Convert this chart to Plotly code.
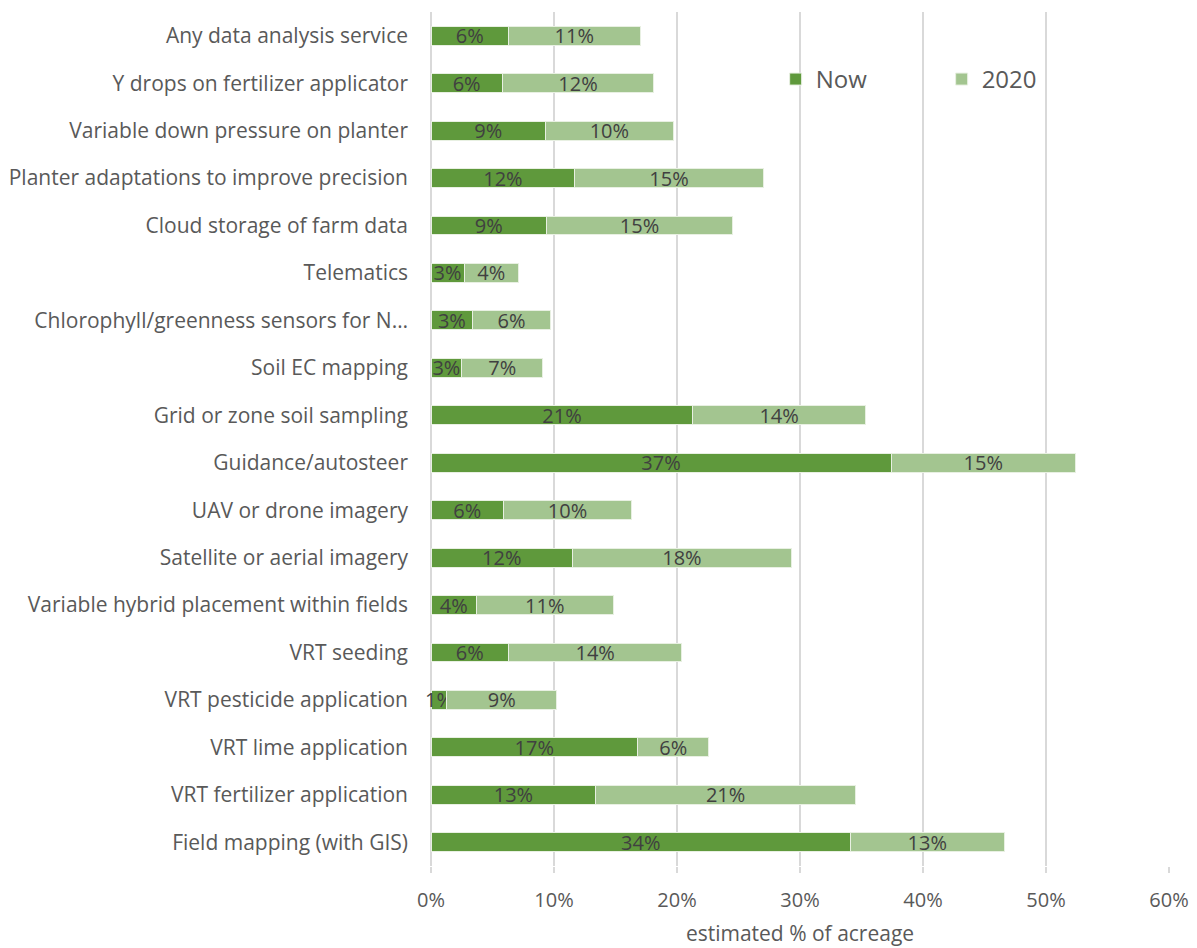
import plotly.graph_objects as go

# categories listed bottom to top, as plotly draws them
practices = [
    "Field mapping (with GIS)",
    "VRT fertilizer application",
    "VRT lime application",
    "VRT pesticide application",
    "VRT seeding",
    "Variable hybrid placement within fields",
    "Satellite or aerial imagery",
    "UAV or drone imagery",
    "Guidance/autosteer",
    "Grid or zone soil sampling",
    "Soil EC mapping",
    "Chlorophyll/greenness sensors for N…",
    "Telematics",
    "Cloud storage of farm data",
    "Planter adaptations to improve precision",
    "Variable down pressure on planter",
    "Y drops on fertilizer applicator",
    "Any data analysis service",
]

now_pct = [34.1, 13.4, 16.8, 1.3, 6.3, 3.7, 11.5, 5.9, 37.4, 21.3,
           2.5, 3.4, 2.7, 9.4, 11.7, 9.3, 5.8, 6.3]
y2020_pct = [12.5, 21.1, 5.8, 8.9, 14.1, 11.1, 17.8, 10.4, 15.0, 14.0,
             6.6, 6.3, 4.4, 15.1, 15.3, 10.4, 12.3, 10.7]

tick_vals = [0, 10, 20, 30, 40, 50, 60]
tick_text = ["0%", "10%", "20%", "30%", "40%", "50%", "60%"]

dark = "#5f993c"
light = "#a3c590"

fig = go.Figure()
for name, vals, col in [("Now", now_pct, dark), ("2020", y2020_pct, light)]:
    fig.add_trace(go.Bar(
        y=practices, x=vals, name=name, orientation="h",
        marker=dict(color=col, line=dict(color="#e8f0e2", width=1)),
        texttemplate="%{x:.0f}%", textposition="inside", insidetextanchor="middle",
        textangle=0, constraintext="none", cliponaxis=False,
        textfont=dict(color="#404040", size=20), width=0.4,
    ))

fig.update_layout(
    barmode="stack",
    width=1197, height=948,
    margin=dict(l=431, r=28, t=12, b=82, autoexpand=False),
    plot_bgcolor="white", paper_bgcolor="white",
    font=dict(family="Open Sans, sans-serif", color="#595959", size=20),
    uniformtext=dict(mode="show", minsize=20),
    legend=dict(orientation="h", x=0.467, y=0.921, xanchor="left", yanchor="middle",
                font=dict(size=24, color="#595959"), traceorder="normal",
                entrywidth=121, bgcolor="rgba(0,0,0,0)"),
    showlegend=True,
)
fig.update_xaxes(
    range=[0, 60], tickvals=tick_vals, ticktext=tick_text,
    showgrid=True, gridcolor="#d9d9d9", gridwidth=2,
    zeroline=True, zerolinecolor="#d9d9d9", zerolinewidth=2,
    ticks="outside", ticklen=6, tickwidth=2, tickcolor="#d9d9d9",
    tickfont=dict(size=20, color="#595959"), ticklabelstandoff=10,
    automargin=False,
    title=dict(text="estimated % of acreage", font=dict(size=21, color="#595959"), standoff=14),
)
fig.update_yaxes(
    showgrid=False, ticks="", tickfont=dict(size=21, color="#595959"),
    ticklabelstandoff=22, showline=False, automargin=False,
)

# drop the default body margin so the figure fills the window exactly
fig.write_html("out.html", config={"displayModeBar": False},
               post_script="document.body.style.margin='0';document.body.style.overflow='hidden';")
